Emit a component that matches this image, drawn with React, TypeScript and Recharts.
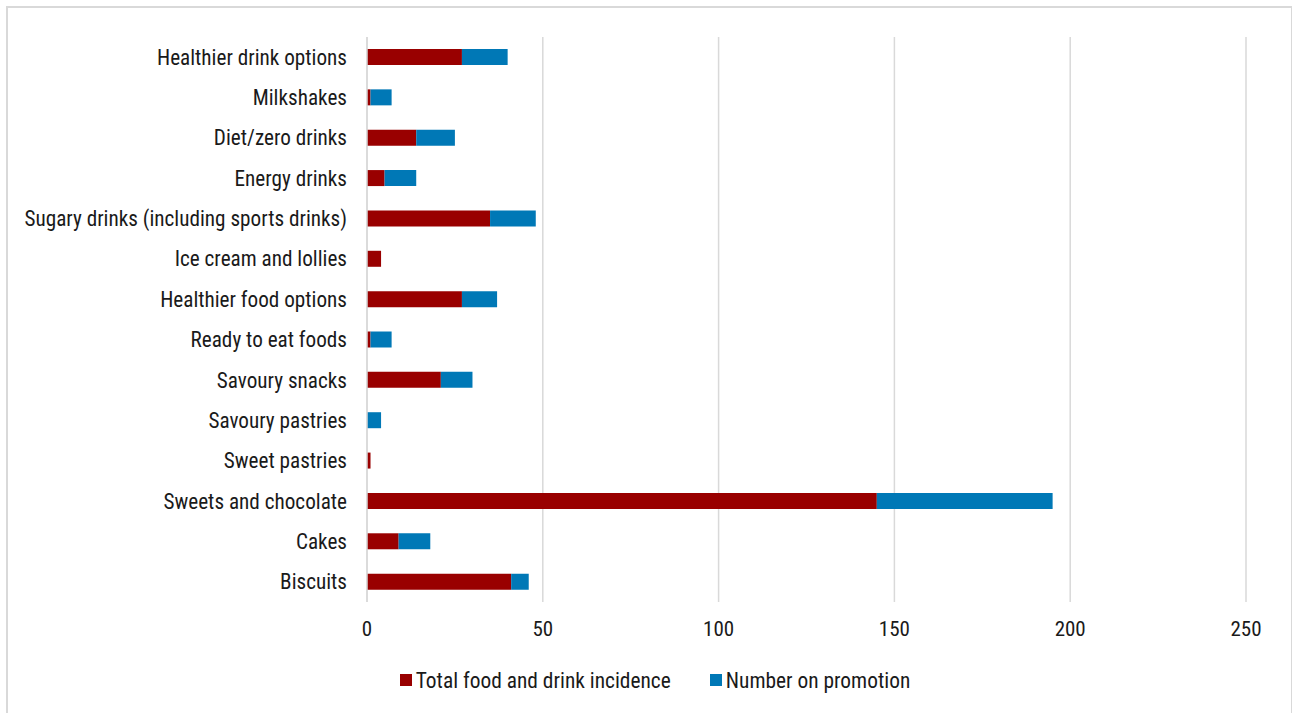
import { BarChart, Bar, XAxis, YAxis, CartesianGrid, Legend } from 'recharts';

const categories = [
  'Healthier drink options',
  'Milkshakes',
  'Diet/zero drinks',
  'Energy drinks',
  'Sugary drinks (including sports drinks)',
  'Ice cream and lollies',
  'Healthier food options',
  'Ready to eat foods',
  'Savoury snacks',
  'Savoury pastries',
  'Sweet pastries',
  'Sweets and chocolate',
  'Cakes',
  'Biscuits',
];
const totalIncidence = [27, 1, 14, 5, 35, 4, 27, 1, 21, 0, 1, 145, 9, 41];
const onPromotion = [13, 6, 11, 9, 13, 0, 10, 6, 9, 4, 0, 50, 9, 5];
const xTicks = [0, 50, 100, 150, 200, 250];

const RED = '#990000';
const BLUE = '#0078b6';
const GRID = '#d9d9d9';
const FONT = "'Roboto Condensed', 'Liberation Sans Narrow', 'Arial Narrow', Roboto, sans-serif";

const data = categories.map((name, i) => ({
  name,
  total: totalIncidence[i],
  promo: onPromotion[i],
}));

const legendItems = [
  { label: 'Total food and drink incidence', color: RED },
  { label: 'Number on promotion', color: BLUE },
];

function LegendBox() {
  return (
    <div style={{ display: 'flex', justifyContent: 'center', alignItems: 'center', height: 30, fontFamily: FONT, fontSize: 21.4, color: '#1a1a1a' }}>
      {legendItems.map((it, i) => (
        <div key={it.label} style={{ display: 'flex', alignItems: 'center', marginLeft: i ? 39 : 0 }}>
          <span style={{ width: 12, height: 12, background: it.color, marginRight: 4, display: 'inline-block' }} />
          <span>{it.label}</span>
        </div>
      ))}
    </div>
  );
}

export default function App() {
  return (
    <div style={{ position: 'absolute', left: 0, top: 0, width: 1292, height: 713, background: '#fff', overflow: 'hidden' }}>
      <div style={{ position: 'absolute', left: 6, top: 6, width: 1283, height: 720, border: `2px solid ${GRID}` }} />
      <div style={{ position: 'absolute', left: 0, top: 0 }}>
        <BarChart
          width={1292}
          height={713}
          data={data}
          layout="vertical"
          margin={{ top: 37, right: 46, left: 0, bottom: 18 }}
          barSize={16}
        >
          <CartesianGrid horizontal={false} stroke={GRID} strokeWidth={1.5} />
          <XAxis
            type="number"
            domain={[0, 250]}
            ticks={xTicks}
            axisLine={false}
            tickLine={false}
            tickSize={0}
            tickMargin={19}
            height={63}
            tick={{ fill: '#1a1a1a', fontSize: 21, fontFamily: FONT }}
          />
          <YAxis
            type="category"
            dataKey="name"
            width={367}
            axisLine={{ stroke: GRID, strokeWidth: 1.5 }}
            tickLine={false}
            tickSize={0}
            tickMargin={20}
            interval={0}
            tick={{ fill: '#1a1a1a', fontSize: 21.2, fontFamily: FONT }}
          />
          <Legend
            verticalAlign="bottom"
            content={<LegendBox />}
            wrapperStyle={{ left: 0, width: 1310 }}
          />
          <Bar dataKey="total" stackId="a" fill={RED} name="Total food and drink incidence" isAnimationActive={false} />
          <Bar dataKey="promo" stackId="a" fill={BLUE} name="Number on promotion" isAnimationActive={false} />
        </BarChart>
      </div>
    </div>
  );
}
